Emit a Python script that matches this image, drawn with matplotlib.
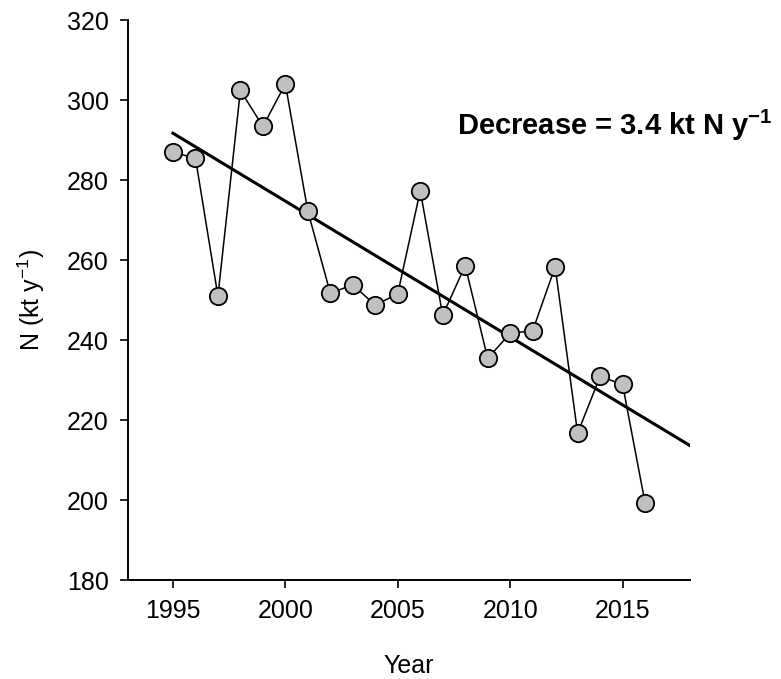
import numpy as np
import matplotlib
matplotlib.use("Agg")
import matplotlib.pyplot as plt

plt.rcParams['font.family'] = ['Liberation Sans', 'DejaVu Sans']
plt.rcParams['mathtext.fontset'] = 'custom'
plt.rcParams['mathtext.rm'] = 'Liberation Sans'
plt.rcParams['mathtext.bf'] = 'Liberation Sans:bold'

# roczne wartosci N (kt/rok)
years = [1995, 1996, 1997, 1998, 1999, 2000, 2001, 2002, 2003, 2004, 2005,
         2006, 2007, 2008, 2009, 2010, 2011, 2012, 2013, 2014, 2015, 2016]
n_values = [286.9, 285.5, 251.0, 302.4, 293.4, 304.0, 272.2, 251.7, 253.8, 248.7, 251.6,
            277.3, 246.2, 258.6, 235.4, 241.7, 242.3, 258.3, 216.7, 230.9, 228.9, 199.3]

# linia trendu (poczatek i koniec)
trend_years = [1995, 2018]
trend_values = [291.7, 213.6]

fig = plt.figure(figsize=(7.81, 6.79), dpi=100)
ax = fig.add_axes([0.1639, 0.1458, 0.7196, 0.8247])

ax.plot(trend_years, trend_values, color='black', linewidth=2.2, zorder=2)
ax.plot(years, n_values, color='black', linewidth=1.1, marker='o', markersize=12.5,
        markerfacecolor='#c0c0c0', markeredgecolor='black', markeredgewidth=1.3, zorder=3)

ax.set_xlim(1993, 2018)
ax.set_ylim(180, 320)
ax.set_xticks([1995, 2000, 2005, 2010, 2015])
ax.set_yticks(np.arange(180, 321, 20))

for s in ['top', 'right']:
    ax.spines[s].set_visible(False)
for s in ['left', 'bottom']:
    ax.spines[s].set_linewidth(1.4)

ax.tick_params(direction='out', length=6, width=1.2, labelsize=18, pad=8)

ax.set_xlabel('Year', fontsize=18, labelpad=22)
ax.set_ylabel(r'N (kt y$^{-1}$)', fontsize=18, labelpad=14)

fig.text(0.989, 0.801, r'Decrease = 3.4 kt N y$^{\mathbf{-1}}$', fontsize=21,
         fontweight='bold', ha='right', va='baseline')

plt.savefig('out.png', dpi=100)
